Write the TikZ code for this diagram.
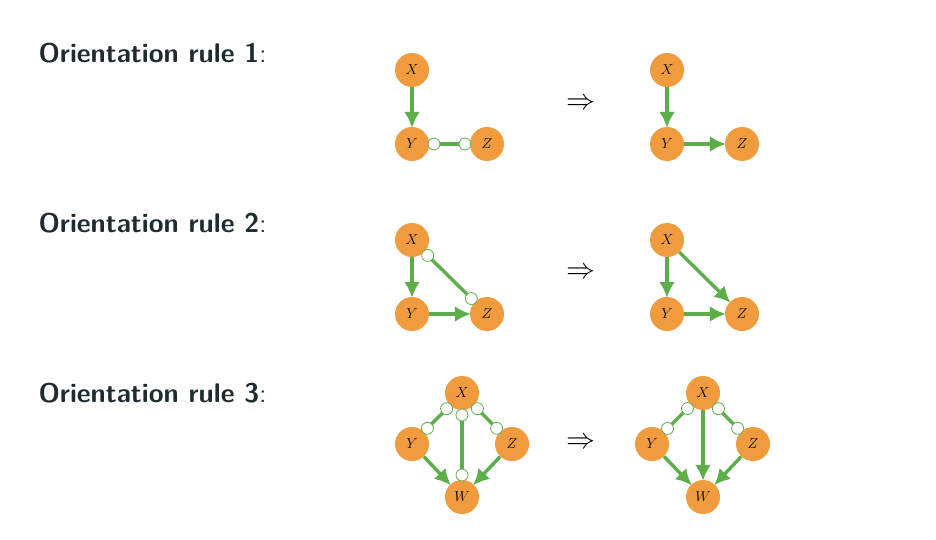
\documentclass[tikz,border=0pt]{standalone}
\usetikzlibrary{arrows.meta,calc}
\definecolor{nodeor}{HTML}{EF9B3E}
\definecolor{edgegr}{HTML}{5DAE4B}
\definecolor{titlec}{HTML}{1E2B30}
\tikzset{
  vnode/.style={circle,fill=nodeor,minimum size=34pt,inner sep=0pt,font=\fontsize{15}{17}\selectfont},
  edg/.style={draw=edgegr,line width=3.4pt},
  arr/.style={edg,-{Latex[length=16pt,width=16pt]},shorten >=-1pt},
  oc/.style={circle,draw=edgegr,fill=white,line width=0.8pt,minimum size=12pt,inner sep=0pt},
  title/.style={anchor=west,text=titlec,font=\fontsize{27}{30}\selectfont\sffamily\bfseries},
  impl/.style={inner sep=0pt}
}
\newcommand{\bigimpl}{\scalebox{2.9}{$\Rightarrow$}}
\begin{document}
\begin{tikzpicture}[x=1pt,y=-1pt]
\useasboundingbox (0,0) rectangle (936,540);
% titles
\node[title] (t1) at (35,53) {Orientation rule 1\mdseries:};
\node[title] (t2) at (35,223) {Orientation rule 2\mdseries:};
\node[title] (t3) at (35,393) {Orientation rule 3\mdseries:};
% implies
\node[impl] (i1) at (581,104) {\bigimpl};
\node[impl] (i2) at (581,273) {\bigimpl};
\node[impl] (i3) at (581,443) {\bigimpl};

% Rule 1 left
\node[vnode] (a1x) at (412,70) {$X$};
\node[vnode] (a1y) at (412,144) {$Y$};
\node[vnode] (a1z) at (487,144) {$Z$};
\draw[arr] (a1x) -- (a1y);
\draw[edg] (a1y) -- (a1z);
\node[oc] (a1c1) at ($(a1y)!22pt!(a1z)$) {};
\node[oc] (a1c2) at ($(a1z)!22pt!(a1y)$) {};
% Rule 1 right
\node[vnode] (b1x) at (667,70) {$X$};
\node[vnode] (b1y) at (667,144) {$Y$};
\node[vnode] (b1z) at (742,144) {$Z$};
\draw[arr] (b1x) -- (b1y);
\draw[arr] (b1y) -- (b1z);

% Rule 2 left
\node[vnode] (a2x) at (412,240) {$X$};
\node[vnode] (a2y) at (412,314) {$Y$};
\node[vnode] (a2z) at (487,314) {$Z$};
\draw[arr] (a2x) -- (a2y);
\draw[arr] (a2y) -- (a2z);
\draw[edg] (a2x) -- (a2z);
\node[oc] (a2c1) at ($(a2x)!22pt!(a2z)$) {};
\node[oc] (a2c2) at ($(a2z)!22pt!(a2x)$) {};
% Rule 2 right
\node[vnode] (b2x) at (667,240) {$X$};
\node[vnode] (b2y) at (667,314) {$Y$};
\node[vnode] (b2z) at (742,314) {$Z$};
\draw[arr] (b2x) -- (b2y);
\draw[arr] (b2y) -- (b2z);
\draw[arr] (b2x) -- (b2z);

% Rule 3 left
\node[vnode] (a3x) at (462,393) {$X$};
\node[vnode] (a3y) at (412,444) {$Y$};
\node[vnode] (a3z) at (512,444) {$Z$};
\node[vnode] (a3w) at (462,497) {$W$};
\draw[edg] (a3x) -- (a3y);
\draw[edg] (a3x) -- (a3z);
\draw[edg] (a3x) -- (a3w);
\draw[arr] (a3y) -- (a3w);
\draw[arr] (a3z) -- (a3w);
\node[oc] (a3c1) at ($(a3x)!22pt!(a3y)$) {};
\node[oc] (a3c2) at ($(a3y)!22pt!(a3x)$) {};
\node[oc] (a3c3) at ($(a3x)!22pt!(a3z)$) {};
\node[oc] (a3c4) at ($(a3z)!22pt!(a3x)$) {};
\node[oc] (a3c5) at ($(a3x)!22pt!(a3w)$) {};
\node[oc] (a3c6) at ($(a3w)!22pt!(a3x)$) {};
% Rule 3 right
\node[vnode] (b3x) at (703,393) {$X$};
\node[vnode] (b3y) at (652,444) {$Y$};
\node[vnode] (b3z) at (753,444) {$Z$};
\node[vnode] (b3w) at (703,497) {$W$};
\draw[edg] (b3x) -- (b3y);
\draw[edg] (b3x) -- (b3z);
\draw[arr] (b3x) -- (b3w);
\draw[arr] (b3y) -- (b3w);
\draw[arr] (b3z) -- (b3w);
\node[oc] (b3c1) at ($(b3x)!22pt!(b3y)$) {};
\node[oc] (b3c2) at ($(b3y)!22pt!(b3x)$) {};
\node[oc] (b3c3) at ($(b3x)!22pt!(b3z)$) {};
\node[oc] (b3c4) at ($(b3z)!22pt!(b3x)$) {};
\end{tikzpicture}
\end{document}
